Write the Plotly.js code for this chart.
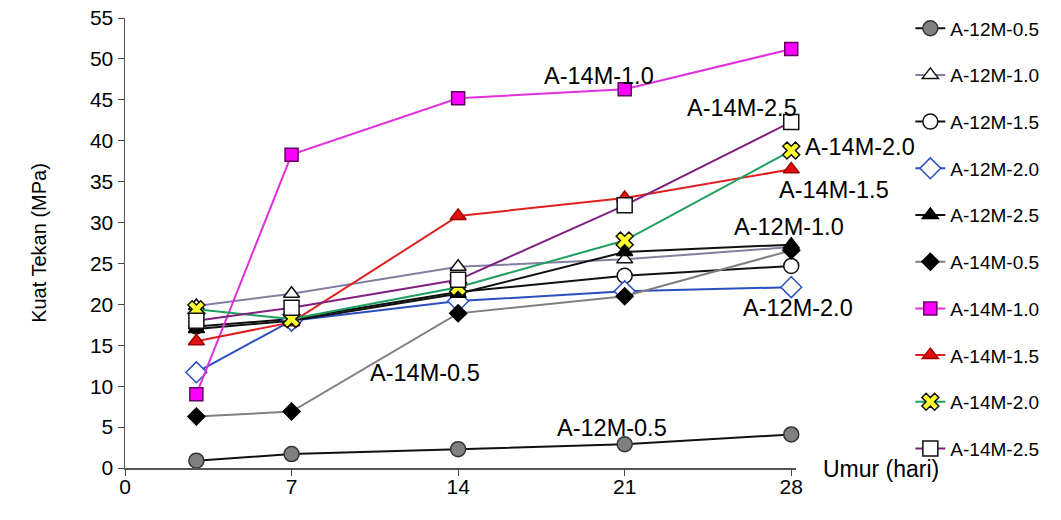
<!DOCTYPE html>
<html>
<head>
<meta charset="utf-8">
<script src="https://cdn.plot.ly/plotly-3.0.1.min.js"></script>
<style>
html,body{margin:0;padding:0;background:#fff;}
#chart{width:1061px;height:520px;}
</style>
</head>
<body>
<div id="chart"></div>
<script>
const days = [3, 7, 14, 21, 28];
const seriesNames = ["A-12M-0.5","A-12M-1.0","A-12M-1.5","A-12M-2.0","A-12M-2.5","A-14M-0.5","A-14M-1.0","A-14M-1.5","A-14M-2.0","A-14M-2.5"];
const a12m05 = [0.9, 1.7, 2.3, 2.9, 4.1];
const a12m10 = [19.8, 21.3, 24.6, 25.5, 27.0];
const a12m15 = [17.3, 18.2, 21.5, 23.5, 24.7];
const a12m20 = [11.7, 18.0, 20.4, 21.6, 22.1];
const a12m25 = [17.0, 18.0, 21.3, 26.4, 27.3];
const a14m05 = [6.3, 6.9, 18.9, 21.0, 26.6];
const a14m10 = [9.0, 38.3, 45.2, 46.3, 51.2];
const a14m15 = [15.5, 17.8, 30.8, 33.0, 36.5];
const a14m20 = [19.4, 18.2, 22.1, 27.8, 38.8];
const a14m25 = [18.0, 19.6, 23.0, 32.1, 42.3];
const xTicks = [0, 7, 14, 21, 28];
// label positions in paper fractions of the plot area
const labelTexts = ["A-14M-1.0","A-14M-2.5","A-14M-2.0","A-14M-1.5","A-12M-1.0","A-12M-2.0","A-14M-0.5","A-12M-0.5"];
const labelX = [0.706, 0.919, 1.010, 1.056, 0.990, 1.003, 0.447, 0.726];
const labelY = [0.871, 0.800, 0.713, 0.618, 0.536, 0.356, 0.211, 0.089];
const labelAnchor = ["center","center","left","center","center","center","center","center"];

const values = [a12m05,a12m10,a12m15,a12m20,a12m25,a14m05,a14m10,a14m15,a14m20,a14m25];
const styles = [
  {lc:'#111111', sym:'circle', fill:'#808080', ml:'#333333', size:15},
  {lc:'#8080a2', sym:'triangle-up', fill:'#ffffff', ml:'#111111', size:14},
  {lc:'#111111', sym:'circle', fill:'#ffffff', ml:'#111111', size:15},
  {lc:'#2a4fc0', sym:'diamond', fill:'#ffffff', ml:'#2a4fc0', size:16},
  {lc:'#111111', sym:'triangle-up', fill:'#000000', ml:'#000000', size:14},
  {lc:'#808080', sym:'diamond', fill:'#000000', ml:'#000000', size:13},
  {lc:'#e030e0', sym:'square', fill:'#ff00ff', ml:'#600060', size:13},
  {lc:'#e02020', sym:'triangle-up', fill:'#e01010', ml:'#a00000', size:14},
  {lc:'#20a060', sym:'x', fill:'#ffff30', ml:'#111111', size:15},
  {lc:'#802080', sym:'square', fill:'#ffffff', ml:'#111111', size:15}
];

const traces = values.map((v, i) => ({
  x: days, y: v, name: seriesNames[i], type: 'scatter', mode: 'lines+markers',
  cliponaxis: false, legendgroup: 'g' + i,
  line: {color: styles[i].lc, width: 2},
  marker: {symbol: styles[i].sym, color: styles[i].fill, size: styles[i].size,
           line: {color: styles[i].ml, width: 1.5}}
}));

const FONT = 'Arial, Liberation Sans, sans-serif';
const annotations = labelTexts.map((t, i) => ({
  x: labelX[i], y: labelY[i], xref: 'paper', yref: 'paper', text: t, showarrow: false,
  xanchor: labelAnchor[i], yanchor: 'middle',
  font: {family: FONT, size: 23.5, color: '#000'}
}));
annotations.push({
  xref: 'paper', yref: 'paper', x: 1.038, y: -0.002, xanchor: 'left', yanchor: 'middle',
  text: 'Umur (hari)', showarrow: false,
  font: {family: FONT, size: 23, color: '#000'}
});

const layout = {
  width: 1061, height: 520,
  margin: {l: 125, r: 265, t: 18, b: 52},
  paper_bgcolor: '#fff', plot_bgcolor: '#fff',
  font: {family: FONT, color: '#000'},
  xaxis: {range: [0, 28.2], tickvals: xTicks, ticks: 'outside', ticklen: 6, tickcolor: '#444',
          showline: true, linecolor: '#555', linewidth: 1.5, showgrid: false, zeroline: false,
          tickfont: {size: 21}, ticklabelstandoff: -7},
  yaxis: {range: [0, 55], dtick: 5, ticks: 'outside', ticklen: 6, tickcolor: '#444',
          showline: true, linecolor: '#555', linewidth: 1.5, showgrid: false, zeroline: false,
          tickfont: {size: 21},
          title: {text: 'Kuat Tekan (MPa)', font: {size: 20}, standoff: 38}},
  showlegend: true,
  legend: {xref: 'container', yref: 'container', x: 0.858, y: 0.982, xanchor: 'left', yanchor: 'top',
           font: {size: 19}, tracegroupgap: 19, traceorder: 'grouped', itemwidth: 30,
           maxheight: 1, bgcolor: 'rgba(0,0,0,0)'},
  annotations: annotations
};

Plotly.newPlot('chart', traces, layout, {displayModeBar: false, staticPlot: true});
</script>
</body>
</html>
